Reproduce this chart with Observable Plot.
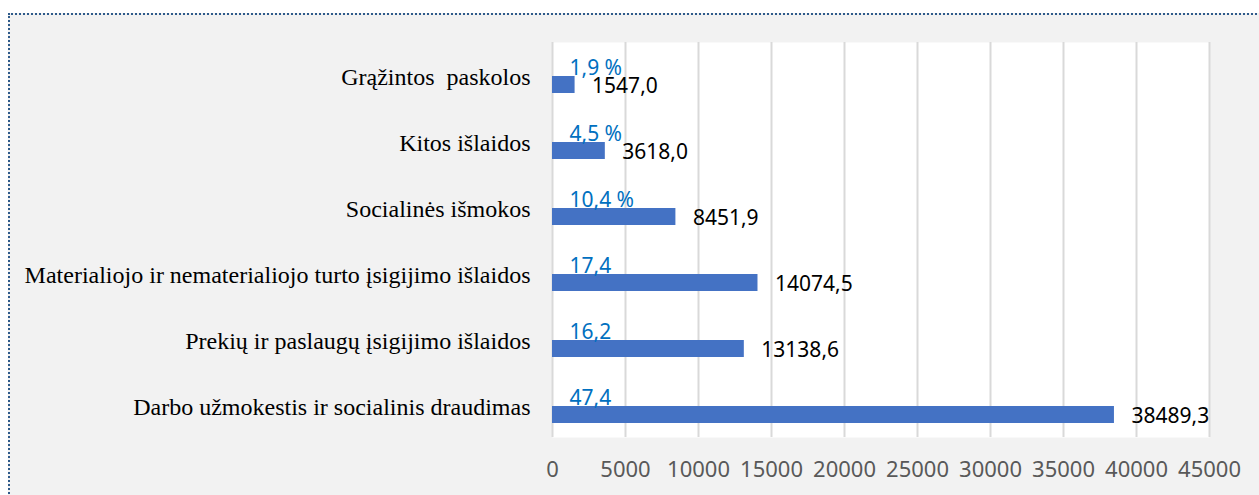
<!DOCTYPE html>
<html>
<head>
<meta charset="utf-8">
<script src="https://cdn.jsdelivr.net/npm/d3@7"></script>
<script src="https://cdn.jsdelivr.net/npm/@observablehq/plot@0.6"></script>
<style>
  html, body { margin: 0; padding: 0; background: #ffffff; overflow: hidden; }
  #frame { position: absolute; left: 8px; top: 13px; width: 1400px; height: 700px;
           background: #f2f2f2; border-top: 2px dotted #2e5a8a; border-left: 2px dotted #2e5a8a; box-sizing: border-box; }
  #chart { position: absolute; left: 0; top: 0; }
  #chart svg { background: transparent; }
</style>
</head>
<body>
<div id="frame"></div>
<div id="chart"></div>
<script>
const categories = [
  "Grąžintos  paskolos",
  "Kitos išlaidos",
  "Socialinės išmokos",
  "Materialiojo ir nematerialiojo turto įsigijimo išlaidos",
  "Prekių ir paslaugų įsigijimo išlaidos",
  "Darbo užmokestis ir socialinis draudimas"
];
const values = [1547.0, 3618.0, 8451.9, 14074.5, 13138.6, 38489.3];
const valueLabels = ["1547,0", "3618,0", "8451,9", "14074,5", "13138,6", "38489,3"];
const percentLabels = ["1,9 %", "4,5 %", "10,4 %", "17,4", "16,2", "47,4"];
const xTicks = [0, 5000, 10000, 15000, 20000, 25000, 30000, 35000, 40000, 45000];

const data = categories.map((c, i) => ({
  category: c, value: values[i], label: valueLabels[i], pct: percentLabels[i]
}));

const chart = Plot.plot({
  width: 1259,
  height: 495,
  marginLeft: 552,
  marginRight: 50,
  marginTop: 42,
  marginBottom: 58,
  style: { background: "transparent", overflow: "visible" },
  x: { domain: [0, 45000] },
  y: { domain: categories, range: [51, 447], paddingInner: 0.75, paddingOuter: 0.375 },
  marks: [
    Plot.frame({ fill: "white", stroke: "none" }),
    Plot.ruleX(xTicks, { stroke: "#d9d9d9", strokeWidth: 2 }),
    Plot.barX(data, { x: "value", y: "category", fill: "#4472c4" }),
    Plot.text(data, { x: () => 0, y: "category", text: "pct", textAnchor: "start",
      dx: 17, dy: -17, fill: "#0070c0", fontSize: 21, fontFamily: "Noto Sans" }),
    Plot.text(data, { x: "value", y: "category", text: "label", textAnchor: "start",
      dx: 17, dy: 1.5, fill: "#000000", fontSize: 21, fontFamily: "Noto Sans" }),
    Plot.axisX(xTicks, { tickSize: 0, tickPadding: 24, fontSize: 22, fontFamily: "Noto Sans",
      fill: "#595959", tickFormat: d => String(d), label: null }),
    Plot.axisY({ tickSize: 0, tickPadding: 22, fontSize: 24, fontFamily: "Liberation Serif",
      fill: "#000000", dy: -8, label: null })
  ]
});
document.getElementById("chart").appendChild(chart);
d3.select(chart).selectAll("text").style("white-space", "pre");
</script>
</body>
</html>
